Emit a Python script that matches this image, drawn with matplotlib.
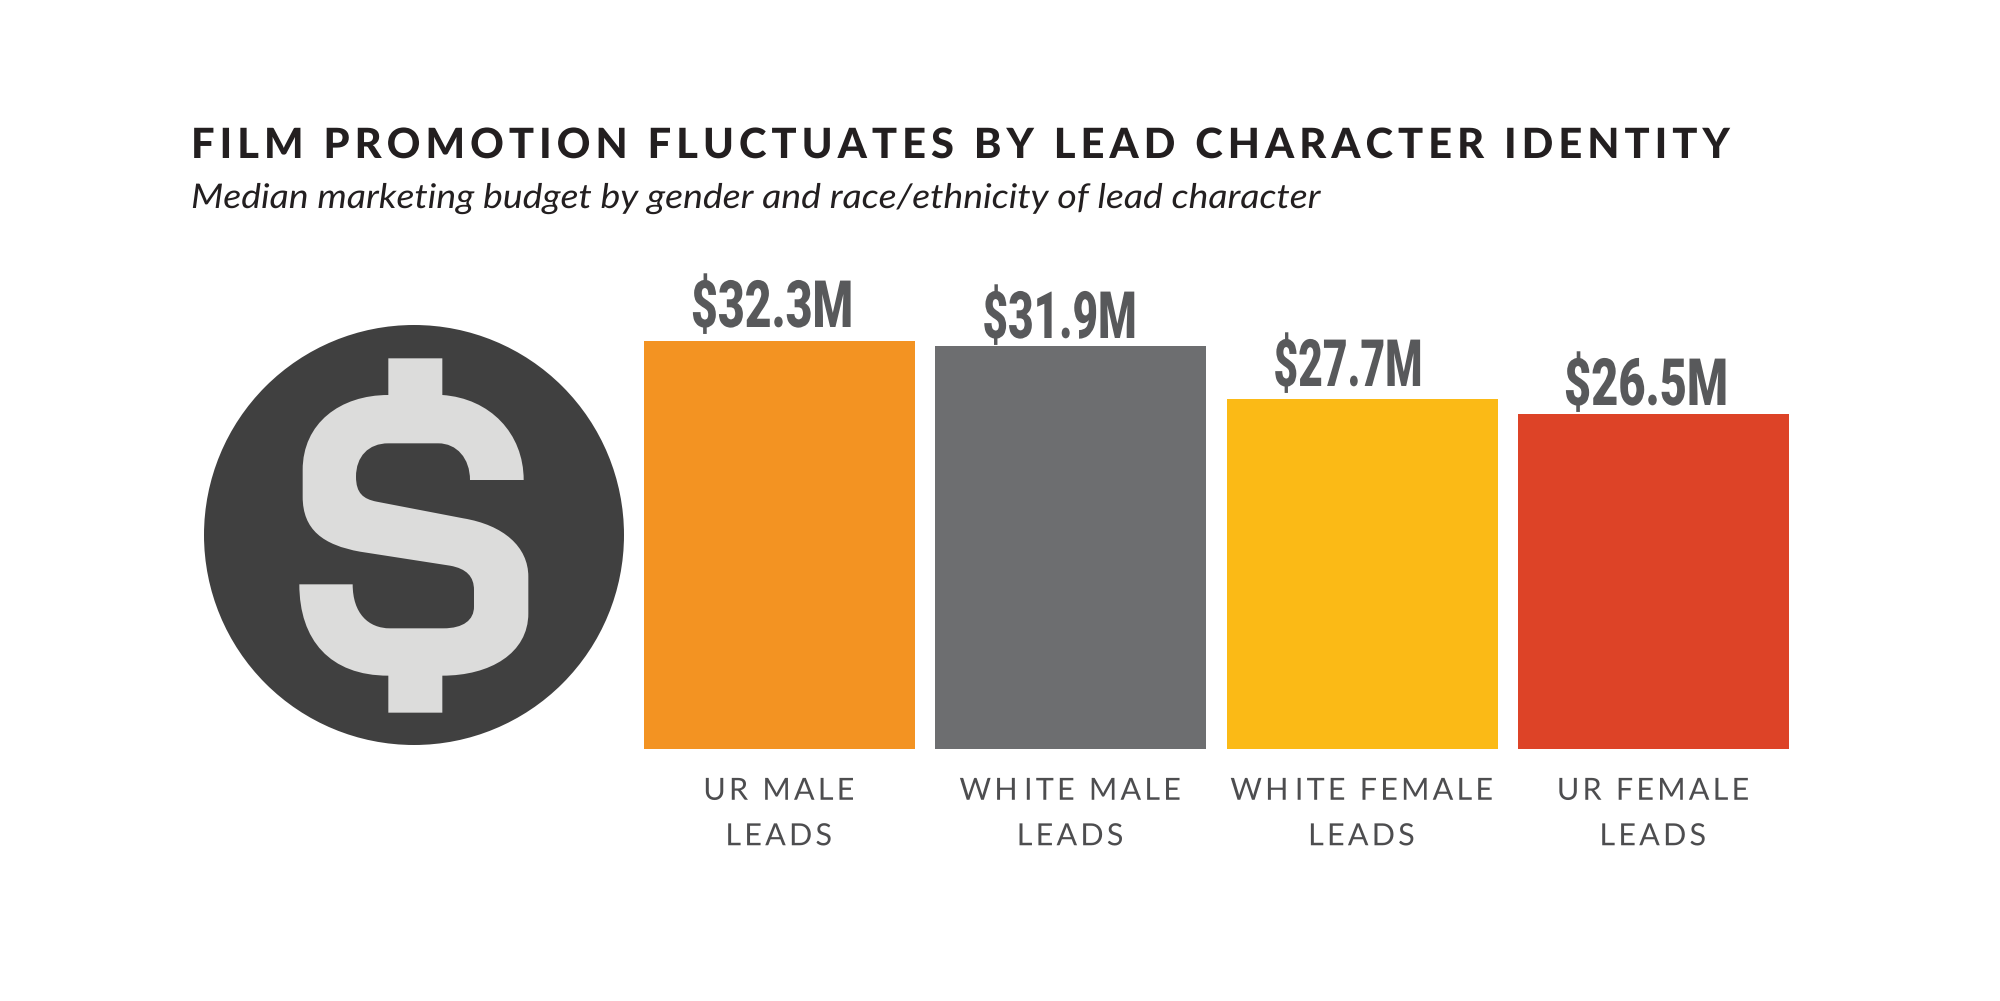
import matplotlib
matplotlib.use('Agg')
import matplotlib.pyplot as plt
from matplotlib.patches import Circle, PathPatch
from matplotlib.path import Path
from matplotlib import patheffects as pe
from matplotlib.transforms import Affine2D, IdentityTransform
import numpy as np

title = 'FILM PROMOTION FLUCTUATES BY LEAD CHARACTER IDENTITY'
subtitle = 'Median marketing budget by gender and race/ethnicity of lead character'

categories = ['UR MALE\nLEADS', 'WHITE MALE\nLEADS', 'WHITE FEMALE\nLEADS', 'UR FEMALE\nLEADS']
budgets = [32.3, 31.9, 27.7, 26.5]
value_labels = ['$32.3M', '$31.9M', '$27.7M', '$26.5M']
bar_colors = ['#F39322', '#6D6E70', '#FBBA16', '#DD4327']


class StretchX(pe.AbstractPathEffect):
    # no condensed fonts here, so narrow or widen the drawn glyphs around cx
    def __init__(self, sx, cx):
        self.sx = sx
        self.cx = cx

    def draw_path(self, renderer, gc, tpath, affine, rgbFace=None):
        st = Affine2D().translate(-self.cx, 0).scale(self.sx, 1).translate(self.cx, 0)
        renderer.draw_path(gc, tpath, affine + st, rgbFace)


class Track(pe.AbstractPathEffect):
    # letter spacing: shift each glyph's contours by a few pixels, text stays real text
    def __init__(self, track, center=False):
        self.track = track
        self.center = center

    def draw_path(self, renderer, gc, tpath, affine, rgbFace=None):
        verts = np.array(affine.transform(tpath.vertices))
        codes = tpath.codes
        starts = list(np.where(codes == Path.MOVETO)[0]) + [len(codes)]
        parts = []
        for a, b in zip(starts[:-1], starts[1:]):
            keep = np.arange(a, b)[codes[a:b] != Path.CLOSEPOLY]
            parts.append((verts[keep, 0].min(), verts[keep, 0].max(), a, b))
        parts.sort()
        height = np.ptp(verts[codes != Path.CLOSEPOLY, 1])
        k, cur_max = -1, None
        for x0, x1, a, b in parts:
            if cur_max is None or x1 > cur_max:
                # a new glyph, unless the contour is a counter inside the last one
                if cur_max is not None and x0 - cur_max > 0.25 * height:
                    k += 1  # word gap
                k += 1
                cur_max = x1
            verts[a:b, 0] += k * self.track
        if self.center:
            verts[:, 0] -= k * self.track / 2 + 1
        renderer.draw_path(gc, Path(verts, codes), IdentityTransform(), rgbFace)


W, H = 2000, 1001
fig = plt.figure(figsize=(W / 100, H / 100), dpi=100, facecolor='white')

# bars live in an axes lined up with the plot area
left, right, top, bottom = 644, 1789, 341, 749
ax = fig.add_axes([left / W, 1 - bottom / H, (right - left) / W, (bottom - top) / H])
xs = range(len(budgets))
ax.bar(xs, budgets, width=0.93, color=bar_colors)
ax.set_xlim(-0.465, 3.465)
ax.set_ylim(0, 32.3)
ax.set_yticks([])
ax.set_xticks(list(xs))
ax.set_xticklabels(categories, fontsize=22, family='Lato', color='#4D4D4F', linespacing=1.76)
ax.tick_params(axis='x', length=0, pad=20)
for s in ax.spines.values():
    s.set_visible(False)

renderer = fig.canvas.get_renderer()

for lab in ax.get_xticklabels():
    lab.set_path_effects([Track(3.2, center=True)])

# value labels sit a bit left of the bar centres in the original
label_x = [772, 1059.5, 1348, 1646]
label_base = [327, 338, 386, 405]
label_w = [162, 154, 149, 164]

# overlay in pixel coordinates for the title, labels and the icon
over = fig.add_axes([0, 0, 1, 1], facecolor='none')
over.set_xlim(0, W)
over.set_ylim(H, 0)
over.axis('off')


def fit_text(x, y, s, width, **kw):
    t = over.text(x, y, s, va='baseline', **kw)
    bb = t.get_window_extent(renderer)
    t.set_path_effects([StretchX(width / bb.width, bb.x0 if t.get_ha() == 'left' else (bb.x0 + bb.x1) / 2)])
    return t


t = over.text(191, 158, title, va='baseline', fontsize=30, fontweight='black', family='Lato', color='#231F20')
t.set_path_effects([Track((1536 - t.get_window_extent(renderer).width) / (len(title) - 1))])

fit_text(191, 208, subtitle, 1129, fontsize=24.5, style='italic', family='Lato', color='#231F20')

for lx, ly, lw, lab in zip(label_x, label_base, label_w, value_labels):
    fit_text(lx, ly, lab, lw, ha='center', fontsize=47, fontweight='black', family='Roboto', color='#58595B')

over.add_patch(Circle((414, 535), 210, color='#404040', lw=0))

M, L, C = Path.MOVETO, Path.LINETO, Path.CURVE4
icon = [
    (M, (625, 175)), (L, (787, 175)), (L, (787, 285)),
    (C, (930, 295)), (C, (1031, 400)), (C, (1031, 540)),
    (L, (870, 540)),
    (C, (870, 475)), (C, (830, 430)), (C, (775, 430)),
    (L, (625, 430)),
    (C, (565, 430)), (C, (528, 470)), (C, (528, 530)),
    (C, (528, 580)), (C, (550, 597)), (C, (590, 605)),
    (L, (850, 655)),
    (C, (970, 675)), (C, (1045, 740)), (C, (1045, 830)),
    (L, (1045, 940)),
    (C, (1045, 1060)), (C, (930, 1127)), (C, (787, 1127)),
    (L, (787, 1238)), (L, (625, 1238)), (L, (625, 1127)),
    (C, (450, 1127)), (C, (358, 1020)), (C, (358, 853)),
    (L, (518, 853)),
    (C, (518, 940)), (C, (565, 985)), (C, (630, 985)),
    (L, (790, 985)),
    (C, (850, 985)), (C, (882, 960)), (C, (882, 920)),
    (L, (882, 870)),
    (C, (882, 830)), (C, (860, 806)), (C, (810, 797)),
    (L, (540, 755)),
    (C, (430, 735)), (C, (368, 690)), (C, (368, 590)),
    (L, (368, 510)),
    (C, (368, 370)), (C, (480, 285)), (C, (625, 285)),
    (L, (625, 175)),
]
codes = [c for c, _ in icon]
verts = [(180 + p[0] / 3, 300 + p[1] / 3) for _, p in icon]
over.add_patch(PathPatch(Path(verts, codes), facecolor='#DCDCDB', lw=0))

fig.savefig('out.png', dpi=100)
